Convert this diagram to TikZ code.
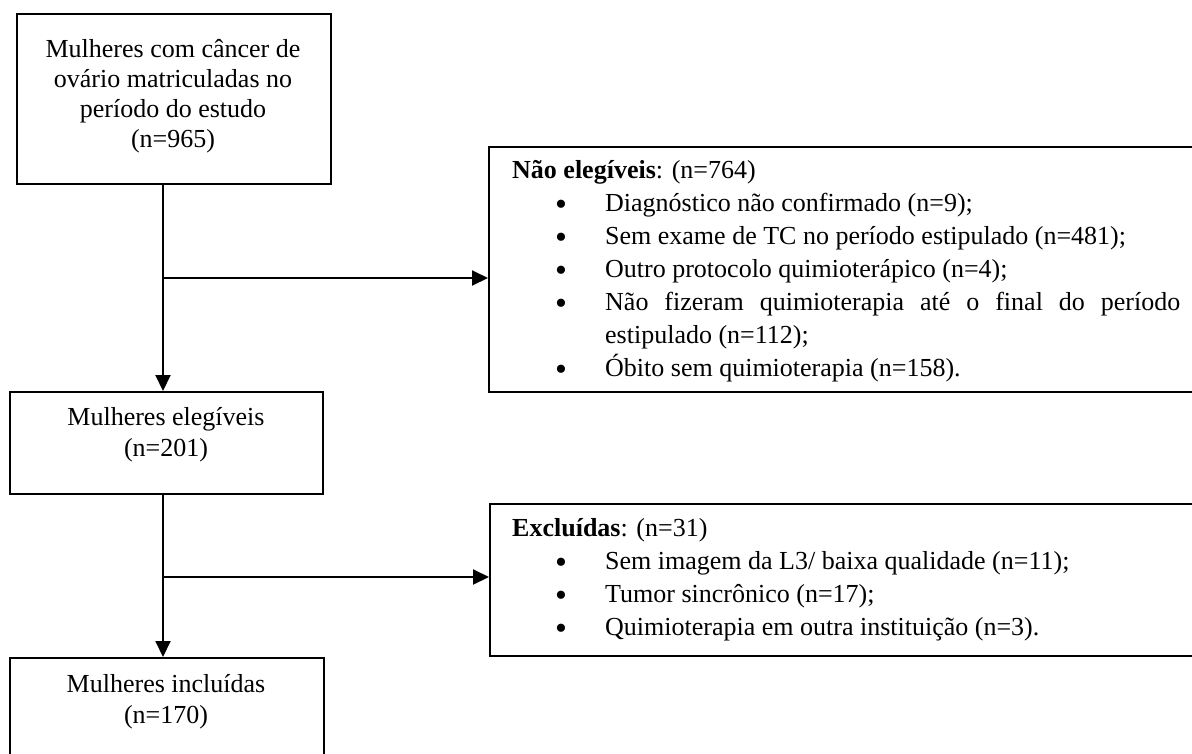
\documentclass[tikz,border=0pt]{standalone}
\usepackage{fontspec}
\setmainfont{Liberation Serif}
\usetikzlibrary{arrows.meta}
\newcommand{\bul}{\raisebox{-4pt}{\fontsize{34}{34}\selectfont\textbullet}}
\newcommand{\itm}[1]{\makebox[93pt][l]{\hspace*{43pt}\bul}#1}
\begin{document}
\begin{tikzpicture}[x=1pt,y=-1pt,
  box/.style={draw=black, line width=1.9pt, rectangle, inner sep=0pt, anchor=north west},
  conn/.style={line width=2pt, -{Triangle[length=16pt,width=15pt]}},
  ctxt/.style={inner sep=0pt, anchor=base, font=\fontsize{26}{30}\selectfont},
  ltxt/.style={inner sep=0pt, anchor=base west, font=\fontsize{26}{33}\selectfont}]
\useasboundingbox (0,0) rectangle (1192,753);
\clip (0,0) rectangle (1192,753);
\fill[white] (0,0) rectangle (1192,753);

% boxes
\node[box, minimum width=314pt, minimum height=170pt] (b1) at (16,13) {};
\node[box, minimum width=760pt, minimum height=245pt] (r1) at (488,146) {};
\node[box, minimum width=313pt, minimum height=102pt] (b2) at (9,391) {};
\node[box, minimum width=760pt, minimum height=152pt] (r2) at (489,503) {};
\node[box, minimum width=314pt, minimum height=150pt] (b3) at (9,657) {};

% texts
\node[ctxt] (t1) at (173,57) {\begin{tabular}[t]{@{}c@{}}Mulheres com câncer de\\ovário matriculadas no\\período do estudo\\(n=965)\end{tabular}};
\node[ctxt, font=\fontsize{26}{31}\selectfont] (t2) at (166,425) {\begin{tabular}[t]{@{}c@{}}Mulheres elegíveis\\(n=201)\end{tabular}};
\node[ctxt, font=\fontsize{26}{31}\selectfont] (t3) at (166,692) {\begin{tabular}[t]{@{}c@{}}Mulheres incluídas\\(n=170)\end{tabular}};

\node[ltxt] (tr1) at (512,178) {\begin{tabular}[t]{@{}l@{}}\textbf{Não elegíveis}: (n=764)\\
\itm{Diagnóstico não confirmado (n=9);}\\
\itm{Sem exame de TC no período estipulado (n=481);}\\
\itm{Outro protocolo quimioterápico (n=4);}\\
\itm{\makebox[575pt][s]{Não fizeram quimioterapia até o final do período}}\\
\hspace*{93pt}estipulado (n=112);\\
\itm{Óbito sem quimioterapia (n=158).}
\end{tabular}};

\node[ltxt] (tr2) at (512,536) {\begin{tabular}[t]{@{}l@{}}\textbf{Excluídas}: (n=31)\\
\itm{Sem imagem da L3/ baixa qualidade (n=11);}\\
\itm{Tumor sincrônico (n=17);}\\
\itm{Quimioterapia em outra instituição (n=3).}
\end{tabular}};

% connectors
\coordinate (j1) at (163,278);
\coordinate (j2) at (163,577);
\draw[conn] (b1.south -| j1) -- (b2.north -| j1);
\draw[conn] (j1) -- (j1 -| r1.west);
\draw[conn] (b2.south -| j2) -- (b3.north -| j2);
\draw[conn] (j2) -- (j2 -| r2.west);
\end{tikzpicture}
\end{document}
